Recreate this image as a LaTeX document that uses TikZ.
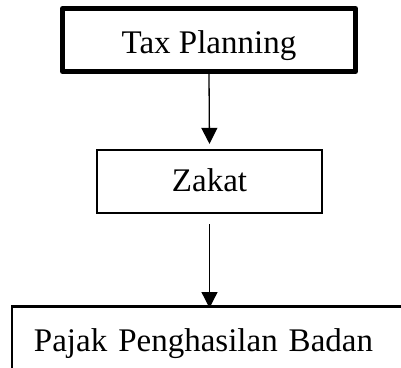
\documentclass[tikz,border=0pt]{standalone}
\usepackage{fontspec}
\setmainfont{Liberation Serif}
\usetikzlibrary{arrows.meta}
\tikzset{
  boxtext/.style={font=\fontsize{33pt}{40pt}\selectfont, inner sep=0pt},
  thickbox/.style={boxtext, draw, line width=5pt, line join=round, minimum width=293pt, minimum height=63pt,
     text height=30pt, text depth=4pt},
  thinbox/.style={boxtext, draw, line width=2.3pt, minimum width=225pt, minimum height=63pt,
     text height=23pt, text depth=4pt},
  openbox/.style={boxtext, draw, line width=2.5pt, anchor=north west, text width=420pt, align=left,
     text height=23pt, text depth=8pt, inner xsep=22pt, inner ysep=22pt},
  flow/.style={line width=1.3pt, -{Triangle[width=16pt,length=16pt]}}
}
\begin{document}
\begin{tikzpicture}[x=1pt,y=-1pt]
\useasboundingbox (0,0) rectangle (401,367);
\clip (0,0) rectangle (401,367);
\fill[white] (0,0) rectangle (401,367);
\node[thickbox] (tax) at (209,40) {Tax Planning};
\node[thinbox] (zakat) at (209.5,181.5) {Zakat};
\node[openbox] (pajak) at (10.7,305) {Pajak Penghasilan Badan};
\draw[flow, shorten >=5pt] (tax.south) -- (zakat.north);
\draw[flow, shorten <=10pt, shorten >=-3pt] (zakat.south) -- (zakat.south |- pajak.north);
\end{tikzpicture}
\end{document}
